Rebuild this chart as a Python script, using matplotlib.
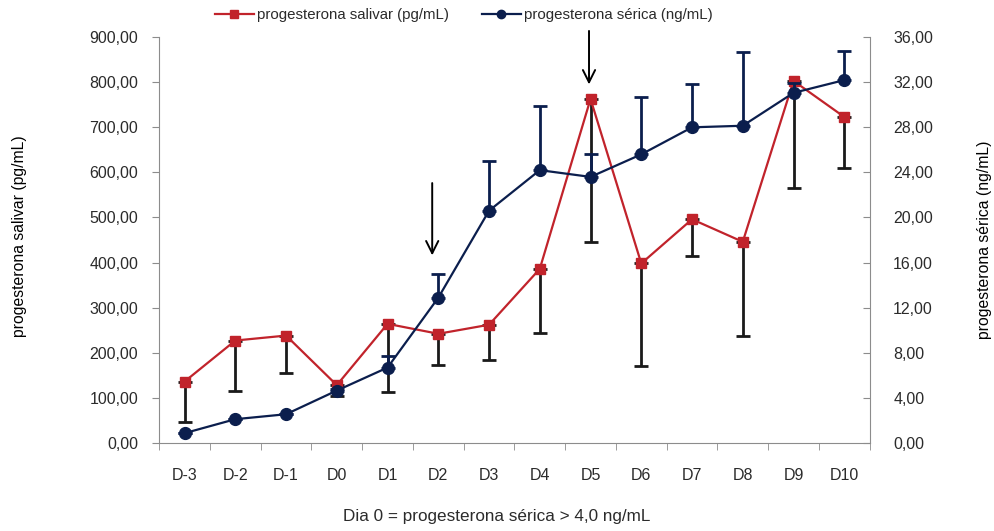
import matplotlib.pyplot as plt
import numpy as np
from matplotlib.lines import Line2D

plt.rcParams['font.family'] = ['Liberation Sans', 'DejaVu Sans']
plt.rcParams['font.size'] = 11

dias = ['D-3', 'D-2', 'D-1', 'D0', 'D1', 'D2', 'D3', 'D4', 'D5', 'D6', 'D7', 'D8', 'D9', 'D10']

# progesterona salivar (pg/mL) - media e limite inferior da barra de erro
salivar = [136, 227, 238, 128, 264, 242, 262, 386, 763, 398, 496, 446, 803, 723]
salivar_inf = [47, 114, 156, 103, 112, 173, 184, 243, 445, 171, 415, 236, 566, 610]

# progesterona serica (ng/mL) - media e limite superior da barra de erro
serica = [0.86, 2.10, 2.54, 4.64, 6.68, 12.88, 20.6, 24.2, 23.6, 25.6, 28.0, 28.14, 31.06, 32.19]
serica_sup = [0.9, 2.15, 2.6, 4.8, 7.71, 14.99, 25.03, 29.88, 25.6, 30.7, 31.83, 34.64, 31.9, 34.8]

vermelho = '#C1232B'
azul = '#0B1E4D'
cinza = '#8C8C8C'
texto = '#2b2b2b'

x = np.arange(len(dias))
err_sal = [np.array(salivar) - np.array(salivar_inf), np.zeros(len(dias))]
err_ser = [np.zeros(len(dias)), np.array(serica_sup) - np.array(serica)]

fig = plt.figure(figsize=(9.95, 5.31), dpi=100)
ax = fig.add_axes([0.160, 0.166, 0.714, 0.764])
ax2 = ax.twinx()

ax.errorbar(x, salivar, yerr=err_sal, fmt='none', ecolor='#1a1a1a', elinewidth=2, capsize=5, capthick=2, zorder=2)
ax.plot(x, salivar, color=vermelho, lw=1.6, marker='s', ms=7.5, zorder=3)

ax2.errorbar(x, serica, yerr=err_ser, fmt='none', ecolor=azul, elinewidth=2, capsize=5, capthick=2, zorder=2)
ax2.plot(x, serica, color=azul, lw=1.6, marker='o', ms=8.5, zorder=3)

ax.set_xlim(-0.5, len(dias) - 0.5)
ax.set_ylim(0, 900)
ax2.set_ylim(0, 36)

ax.set_xticks(x)
ax.set_xticklabels(dias, fontsize=11.5)
ax.set_xticks(np.arange(-0.5, len(dias)), minor=True)
ax.tick_params(axis='x', which='major', length=0, pad=18, labelcolor=texto)
ax.tick_params(axis='x', which='minor', length=5, color=cinza, direction='out')

ax.set_yticks(np.arange(0, 901, 100))
ax.set_yticklabels([f'{v:.2f}'.replace('.', ',') for v in np.arange(0, 901, 100)], fontsize=11.5)
ax2.set_yticks(np.arange(0, 37, 4))
ax2.set_yticklabels([f'{v:.2f}'.replace('.', ',') for v in np.arange(0, 37, 4)], fontsize=11.5)
ax.tick_params(axis='y', length=5, color=cinza, pad=10, labelcolor=texto)
ax2.tick_params(axis='y', length=5, color=cinza, direction='in', pad=17, labelcolor=texto)

for a in (ax, ax2):
    a.spines['top'].set_visible(False)
    for s in ('left', 'right', 'bottom'):
        a.spines[s].set_color(cinza)
ax.spines['right'].set_visible(False)
ax2.spines['left'].set_visible(False)
ax2.spines['bottom'].set_visible(False)

fig.text(20 / 995, 1 - 236 / 531, 'progesterona salivar (pg/mL)', rotation=90,
         ha='center', va='center', fontsize=11.3, color='black')
fig.text(985 / 995, 1 - 240 / 531, 'progesterona sérica (ng/mL)', rotation=90,
         ha='center', va='center', fontsize=11.3, color='black')
fig.text(497 / 995, 1 - 517 / 531, 'Dia 0 = progesterona sérica > 4,0 ng/mL',
         ha='center', va='center', fontsize=12.3, color=texto)

# setas
ax2.annotate('', xy=(5 - 0.12, serica_sup[5] + 1.4), xytext=(5 - 0.12, 23.3),
             arrowprops=dict(arrowstyle='->', color='black', lw=1.4, mutation_scale=22))
ax.annotate('', xy=(8 - 0.03, salivar[8] + 26), xytext=(8 - 0.03, 920),
            arrowprops=dict(arrowstyle='->', color='black', lw=1.4, mutation_scale=22),
            annotation_clip=False)

handles = [Line2D([], [], color=vermelho, lw=1.6, marker='s', ms=6),
           Line2D([], [], color=azul, lw=1.6, marker='o', ms=6)]
fig.legend(handles, ['progesterona salivar (pg/mL)', 'progesterona sérica (ng/mL)'],
           loc='center', bbox_to_anchor=(0.466, 0.972), ncol=2, frameon=False,
           handlelength=2.6, handletextpad=0.2, columnspacing=2.2, fontsize=10.8,
           labelcolor=texto)

fig.savefig('out.png', dpi=100)
